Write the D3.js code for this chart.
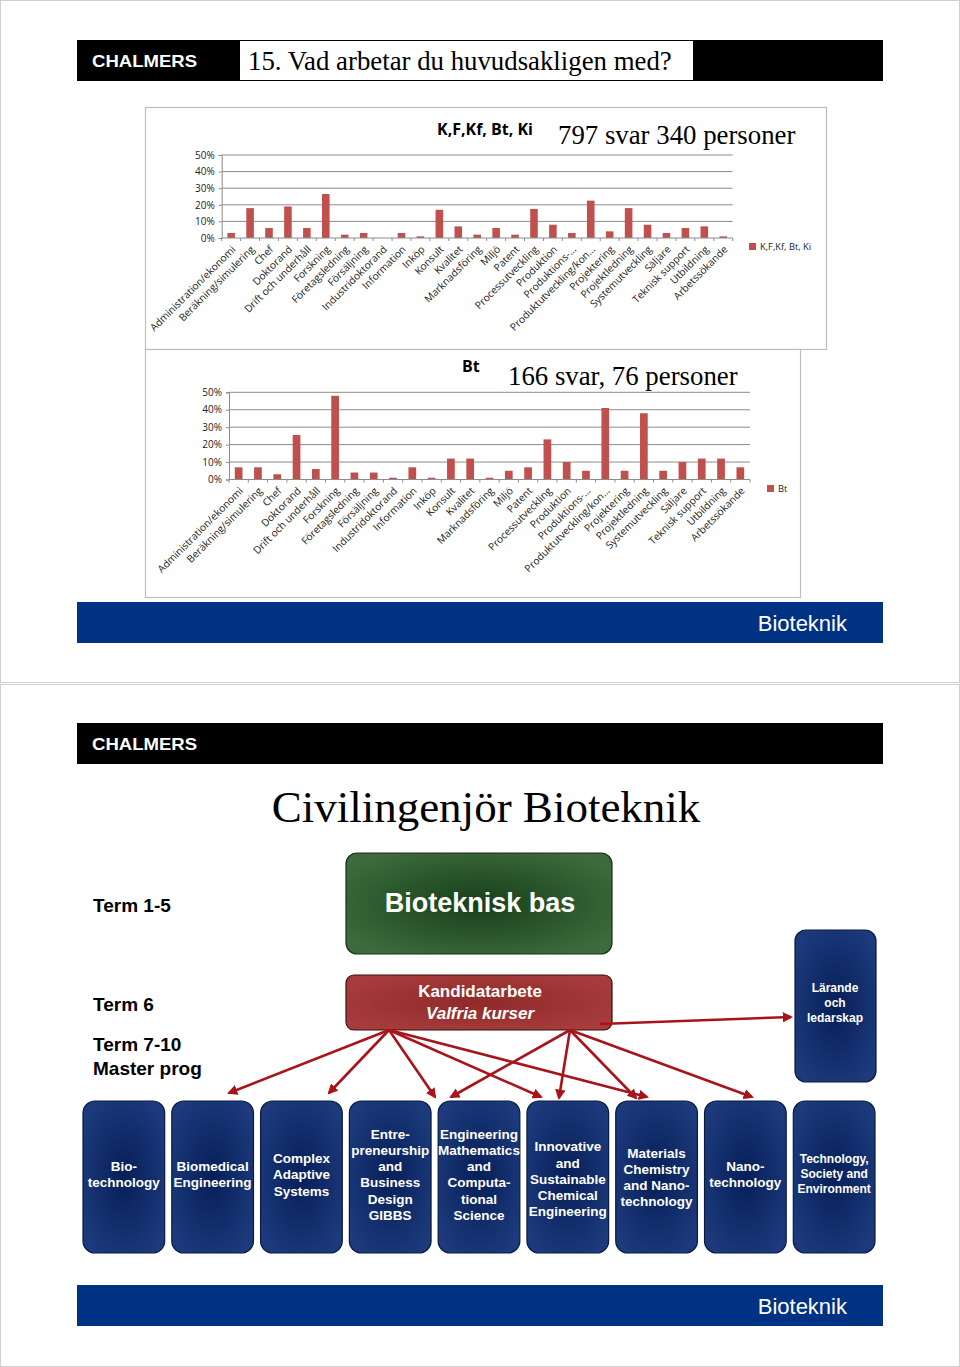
<!DOCTYPE html>
<html><head><meta charset="utf-8">
<script src="https://cdn.jsdelivr.net/npm/d3@7"></script>
<style>
html,body{margin:0;padding:0;background:#fff;}
svg{display:block;}
</style></head>
<body>
<script>
// ---------- DATA ----------
const categories = ["Administration/ekonomi","Beräkning/simulering","Chef","Doktorand","Drift och underhåll","Forskning","Företagsledning","Försäljning","Industridoktorand","Information","Inköp","Konsult","Kvalitet","Marknadsföring","Miljö","Patent","Processutveckling","Produktion","Produktions-…","Produktutveckling/kon…","Projektering","Projektledning","Systemutveckling","Säljare","Teknisk support","Utbildning","Arbetssökande"];
const allValues = [3,18,6,19,6,26.5,2,3,0,3,1,17,7,2,6,2,17.5,8,3,22.5,4,18,8,3,6,7,1];
const btValues  = [7,7,3,25.5,6,48,4,4,1,7,1,12,12,1,5,7,23,10,5,41,5,38,5,10,12,12,7];
const yTicks = [0,10,20,30,40,50];
const seriesNames = ["K,F,Kf, Bt, Ki","Bt"];
const chartTitles = ["K,F,Kf, Bt, Ki","Bt"];
const chartSubtitles = ["797 svar 340 personer","166 svar, 76 personer"];
const programs = [["Bio-","technology"],["Biomedical","Engineering"],["Complex","Adaptive","Systems"],["Entre-","preneurship","and","Business","Design","GIBBS"],["Engineering","Mathematics","and","Computa-","tional","Science"],["Innovative","and","Sustainable","Chemical","Engineering"],["Materials","Chemistry","and Nano-","technology"],["Nano-","technology"],["Technology,","Society and","Environment"]];
const termLabels = ["Term 1-5","Term 6","Term 7-10","Master prog"];

// ---------- PAGE ----------
const W = 960, H = 1367;
const svg = d3.select("body").append("svg").attr("width", W).attr("height", H);
const defs = svg.append("defs");
const SANS = "'Liberation Sans', Arial, sans-serif";
const SERIF = "'Liberation Serif', 'Times New Roman', serif";
const CAL = "'Open Sans', 'DejaVu Sans', sans-serif";
const RED = "#c0504d";

function radial(id, c0, c1) {
  const g = defs.append("radialGradient").attr("id", id).attr("cx", "50%").attr("cy", "50%").attr("r", "60%");
  g.append("stop").attr("offset", "0%").attr("stop-color", c0);
  g.append("stop").attr("offset", "100%").attr("stop-color", c1);
}
radial("gGreen", "#173f19", "#3d6b3d");
radial("gRed", "#8f2a2a", "#a83c3c");
radial("gBlue", "#071f58", "#1c3a7c");
defs.append("marker").attr("id", "arrow").attr("viewBox", "0 0 10 10").attr("refX", 8).attr("refY", 5)
  .attr("markerWidth", 4).attr("markerHeight", 4).attr("orient", "auto")
  .append("path").attr("d", "M0,0 L10,5 L0,10 z").attr("fill", "#a8141a");

// slide frames
svg.append("rect").attr("x", 0.5).attr("y", 0.5).attr("width", W - 1).attr("height", 682).attr("fill", "none").attr("stroke", "#cfcfcf");
svg.append("rect").attr("x", 0.5).attr("y", 684.5).attr("width", W - 1).attr("height", 682).attr("fill", "none").attr("stroke", "#cfcfcf");

function header(y) {
  svg.append("rect").attr("x", 77).attr("y", y).attr("width", 806).attr("height", 41).attr("fill", "#000");
  svg.append("text").attr("x", 92).attr("y", y + 26.5).attr("fill", "#fff").attr("font-family", SANS)
    .attr("font-weight", "bold").attr("font-size", 17).attr("textLength", 105).attr("lengthAdjust", "spacingAndGlyphs")
    .text("CHALMERS");
}
function footer(y) {
  svg.append("rect").attr("x", 77).attr("y", y).attr("width", 806).attr("height", 41).attr("fill", "#003283");
  svg.append("text").attr("x", 847).attr("y", y + 29).attr("text-anchor", "end").attr("fill", "#fff")
    .attr("font-family", SANS).attr("font-size", 22).text("Bioteknik");
}

// ---------- SLIDE 1 ----------
header(40);
svg.append("rect").attr("x", 240).attr("y", 41).attr("width", 453).attr("height", 39).attr("fill", "#fff");
svg.append("text").attr("x", 248).attr("y", 70).attr("font-family", SERIF).attr("font-size", 26.8).attr("fill", "#000")
  .text("15. Vad arbetar du huvudsakligen med?");

function barChart(opt) {
  const g = svg.append("g");
  g.append("rect").attr("x", opt.box[0] + 0.5).attr("y", opt.box[1] + 0.5).attr("width", opt.box[2]).attr("height", opt.box[3])
    .attr("fill", "#fff").attr("stroke", "#bdbdbd").attr("stroke-width", 1.2);
  const x = d3.scaleBand().domain(categories).range([opt.x0, opt.x1]);
  const y = d3.scaleLinear().domain([0, 50]).range([opt.y0, opt.y1]);
  // grid
  g.selectAll(".grid").data(yTicks.filter(d => d > 0)).enter().append("line")
    .attr("x1", opt.x0).attr("x2", opt.x1).attr("y1", d => y(d)).attr("y2", d => y(d))
    .attr("stroke", "#8c8c8c").attr("stroke-width", 1);
  // y axis
  const ya = g.append("g").attr("transform", `translate(${opt.x0},0)`)
    .call(d3.axisLeft(y).tickValues(yTicks).tickFormat(d => d + "%").tickSize(3).tickPadding(4));
  ya.select(".domain").attr("stroke", "#8c8c8c");
  ya.selectAll(".tick line").attr("stroke", "#8c8c8c");
  ya.selectAll("text").attr("font-family", CAL).attr("font-size", 10).attr("fill", "#222");
  // bars
  g.selectAll(".bar").data(opt.values).enter().append("rect")
    .attr("x", (d, i) => x(categories[i]) + x.bandwidth() * 0.3)
    .attr("width", x.bandwidth() * 0.4)
    .attr("y", d => y(d)).attr("height", d => y(0) - y(d)).attr("fill", RED);
  // x axis
  const xa = g.append("g").attr("transform", `translate(0,${opt.y0})`);
  xa.append("line").attr("x1", opt.x0).attr("x2", opt.x1).attr("stroke", "#8c8c8c");
  xa.selectAll(".tk").data(d3.range(categories.length + 1)).enter().append("line")
    .attr("x1", i => opt.x0 + i * x.step()).attr("x2", i => opt.x0 + i * x.step())
    .attr("y1", 0).attr("y2", 3).attr("stroke", "#8c8c8c");
  xa.selectAll(".lbl").data(categories).enter().append("text")
    .attr("transform", d => `translate(${x(d) + x.bandwidth() / 2 + 5},${12}) rotate(-45)`)
    .attr("text-anchor", "end").attr("font-family", CAL).attr("font-size", 10.2).attr("fill", "#222").text(d => d);
  // titles
  g.append("text").attr("x", opt.titleX).attr("y", opt.titleY).attr("font-family", CAL).attr("font-weight", "bold")
    .attr("font-size", 16).attr("fill", "#000").text(opt.title);
  g.append("text").attr("x", opt.subX).attr("y", opt.subY).attr("font-family", SERIF)
    .attr("font-size", 26.8).attr("fill", "#000").text(opt.sub);
  // legend
  g.append("rect").attr("x", opt.legX).attr("y", opt.legY - 7).attr("width", 7).attr("height", 7).attr("fill", RED);
  g.append("text").attr("x", opt.legX + 11).attr("y", opt.legY).attr("font-family", CAL).attr("font-size", 9.3)
    .attr("fill", "#222").text(opt.legend);
}

barChart({box: [145, 107, 681, 242], x0: 221.7, x1: 732.7, y0: 238, y1: 155, values: allValues,
  title: chartTitles[0], titleX: 437, titleY: 135, sub: chartSubtitles[0], subX: 558, subY: 144,
  legX: 749, legY: 250, legend: seriesNames[0]});
barChart({box: [145, 349, 655, 248], x0: 229, x1: 750, y0: 479.5, y1: 392.3, values: btValues,
  title: chartTitles[1], titleX: 462, titleY: 372, sub: chartSubtitles[1], subX: 508, subY: 385,
  legX: 767, legY: 492, legend: seriesNames[1]});

footer(602);

// ---------- SLIDE 2 ----------
header(723);
svg.append("text").attr("x", 486).attr("y", 822).attr("text-anchor", "middle").attr("font-family", SERIF)
  .attr("font-size", 45).attr("fill", "#000").text("Civilingenjör Bioteknik");

const termY = [912, 1011, 1051, 1075];
svg.selectAll(".term").data(termLabels).enter().append("text")
  .attr("x", 93).attr("y", (d, i) => termY[i]).attr("font-family", SANS).attr("font-weight", "bold")
  .attr("font-size", 19).attr("fill", "#000").text(d => d);

// green box
svg.append("rect").attr("x", 346).attr("y", 853).attr("width", 266).attr("height", 101).attr("rx", 11)
  .attr("fill", "url(#gGreen)").attr("stroke", "#1b2f1b").attr("stroke-width", 1.2);
svg.append("text").attr("x", 480).attr("y", 912).attr("text-anchor", "middle").attr("font-family", SANS)
  .attr("font-weight", "bold").attr("font-size", 27).attr("fill", "#fff").text("Bioteknisk bas");

// red box
svg.append("rect").attr("x", 346).attr("y", 975).attr("width", 266).attr("height", 55).attr("rx", 8)
  .attr("fill", "url(#gRed)").attr("stroke", "#3a1010").attr("stroke-width", 1.2);
svg.append("text").attr("x", 480).attr("y", 997).attr("text-anchor", "middle").attr("font-family", SANS)
  .attr("font-weight", "bold").attr("font-size", 17).attr("fill", "#fff").text("Kandidatarbete");
svg.append("text").attr("x", 480).attr("y", 1019).attr("text-anchor", "middle").attr("font-family", SANS)
  .attr("font-weight", "bold").attr("font-style", "italic").attr("font-size", 17).attr("fill", "#fff").text("Valfria kurser");

// Lärande box
svg.append("rect").attr("x", 795).attr("y", 930).attr("width", 81).attr("height", 152).attr("rx", 11)
  .attr("fill", "url(#gBlue)").attr("stroke", "#0a1a40").attr("stroke-width", 1.2);
["Lärande", "och", "ledarskap"].forEach((t, i) => {
  svg.append("text").attr("x", 835).attr("y", 992 + i * 15).attr("text-anchor", "middle").attr("font-family", SANS)
    .attr("font-weight", "bold").attr("font-size", 12).attr("fill", "#fff").text(t);
});

// program boxes
const px = d3.scaleBand().domain(d3.range(programs.length)).range([83, 875]).paddingInner(0.08);
const pg = svg.selectAll(".prog").data(programs).enter().append("g");
pg.append("rect").attr("x", (d, i) => px(i)).attr("y", 1101).attr("width", px.bandwidth()).attr("height", 152).attr("rx", 12)
  .attr("fill", "url(#gBlue)").attr("stroke", "#0a1a40").attr("stroke-width", 1.2);
pg.each(function (lines, i) {
  const fs = i === 8 ? 12 : 13.5;
  const lh = i === 8 ? 15 : 16.2;
  const cy = i === 6 ? 1177 : (i === 5 ? 1179 : (i === 8 ? 1174 : 1174.5));
  const top = cy - (lines.length - 1) * lh / 2;
  lines.forEach((t, j) => {
    d3.select(this).append("text").attr("x", px(i) + px.bandwidth() / 2).attr("y", top + j * lh + fs * 0.36)
      .attr("text-anchor", "middle").attr("font-family", SANS).attr("font-weight", "bold")
      .attr("font-size", fs).attr("fill", "#fff").text(t);
  });
});

// arrows (diagram layout)
const srcL = [389, 1030], srcR = [570, 1030];
const arrows = [[srcL, [229, 1093]], [srcL, [329, 1093]], [srcL, [435, 1097]], [srcL, [541, 1097]], [srcL, [647, 1097]],
                [srcR, [451, 1097]], [srcR, [559, 1098]], [srcR, [636, 1098]], [srcR, [752, 1097]],
                [[600, 1024], [791, 1017]]];
svg.selectAll(".arr").data(arrows).enter().append("line")
  .attr("x1", d => d[0][0]).attr("y1", d => d[0][1]).attr("x2", d => d[1][0]).attr("y2", d => d[1][1])
  .attr("stroke", "#a8141a").attr("stroke-width", 2.6).attr("marker-end", "url(#arrow)");

footer(1285);
</script>
</body></html>
